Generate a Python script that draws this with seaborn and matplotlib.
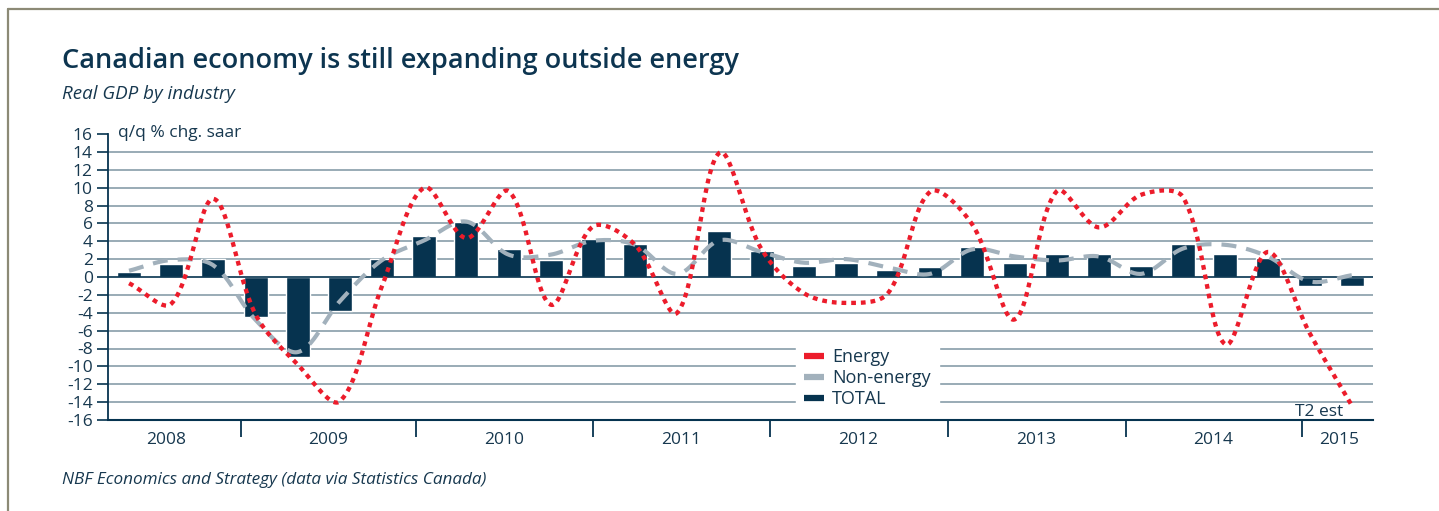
import numpy as np
import seaborn as sns
import matplotlib.pyplot as plt
from matplotlib.lines import Line2D

# quarterly data, 2008Q1 .. 2015Q2 (q/q % chg. saar)
years = [2008, 2009, 2010, 2011, 2012, 2013, 2014, 2015]
quarters = [f"{y}Q{q}" for y in years for q in range(1, 5)][:30]

total = [0.6, 1.5, 2.05, -4.5, -9.0, -3.8, 2.05, 4.6, 6.2, 3.15,
         1.9, 4.3, 3.7, 0.1, 5.2, 2.9, 1.25, 1.6, 0.8, 1.15,
         3.4, 1.6, 2.6, 2.6, 1.25, 3.7, 2.6, 2.15, -1.05, -1.05]
energy = [-0.7, -3.0, 8.75, -4.2, -9.8, -13.9, -1.0, 10.0, 4.35, 9.6,
          -3.1, 5.65, 3.6, -4.0, 13.9, 3.1, -1.8, -2.9, -1.8, 9.55,
          5.85, -4.75, 9.6, 5.55, 9.2, 8.9, -7.55, 2.8, -6.3, -14.4]
non_energy = [0.7, 1.9, 1.3, -4.8, -8.4, -2.7, 1.9, 4.1, 6.2, 2.5,
              2.5, 4.05, 3.6, 0.35, 4.1, 2.8, 1.6, 2.0, 1.07, 0.35,
              3.1, 2.3, 1.85, 2.3, 0.35, 3.2, 3.6, 2.3, -0.5, 0.2]

# year axis (the original's year dividers are not on quarter boundaries)
year_dividers = [2.66, 6.81, 11.01, 15.19, 19.41, 23.64, 27.81]
year_centers = [0.88, 4.72, 8.9, 13.1, 17.3, 21.5, 25.7, 28.7]

NAVY = "#06334f"
RED = "#ec1c2b"
GREY = "#a2b1bc"
GRID = "#7d94a2"
TXT = "#17384f"

# pixel size of one x slot / one y unit, used to shape the smoothing like excel does
SX, SY = 42.17, 8.94


def smooth(values, n=30):
    # excel-like smoothed line: bezier through every point, arms scaled by segment length
    pts = np.column_stack([np.arange(len(values)) * SX, np.asarray(values, float) * SY])
    pad = np.vstack([pts[0], pts, pts[-1]])
    t = np.linspace(0, 1, n, endpoint=False)[:, None]

    def arms(i):
        prev, cur, nxt = pad[i], pad[i + 1], pad[i + 2]
        d = nxt - prev
        a = np.hypot(*(cur - prev))
        b = np.hypot(*(nxt - cur))
        s = a + b if a + b > 0 else 1.0
        return d * a / s / 3, d * b / s / 3   # incoming, outgoing

    segs = []
    for i in range(len(pts) - 1):
        p1, p2 = pts[i], pts[i + 1]
        c1 = p1 + arms(i)[1]
        c2 = p2 - arms(i + 1)[0]
        segs.append((1 - t)**3 * p1 + 3 * (1 - t)**2 * t * c1 + 3 * (1 - t) * t**2 * c2 + t**3 * p2)
    segs.append(pts[-1:])
    out = np.vstack(segs)
    return out[:, 0] / SX, out[:, 1] / SY


sns.set_style("white")
plt.rcParams['font.family'] = ['Open Sans', 'DejaVu Sans']

W, H = 1439, 511
fig = plt.figure(figsize=(W / 100, H / 100), dpi=100)
ax = fig.add_axes([108 / W, 1 - 420 / H, (1373 - 108) / W, (420 - 134) / H])

sns.barplot(x=quarters, y=total, color=NAVY, saturation=1, width=0.57, ax=ax, zorder=3)

nx, ny = smooth(non_energy)
sns.lineplot(x=nx, y=ny, sort=False, estimator=None, color=GREY,
             linewidth=3.0, linestyle=(0, (3.6, 2.4)), ax=ax, zorder=4)
ex, ey = smooth(energy)
sns.lineplot(x=ex, y=ey, sort=False, estimator=None, color=RED,
             linewidth=3.1, linestyle=(0, (1.1, 1.15)), ax=ax, zorder=5)

ax.set_xlim(-0.5, len(quarters) - 0.5)
ax.set_ylim(-16, 16)
ax.set_yticks(np.arange(-16, 17, 2))
ax.set_yticklabels([str(v) for v in range(-16, 17, 2)])

# gridlines
for v in range(-14, 15, 2):
    ax.axhline(v, color=NAVY if v == 0 else GRID, lw=1.2 if v == 0 else 1.1, zorder=1 if v else 3.5)

for s in ["top", "right"]:
    ax.spines[s].set_visible(False)
ax.spines["left"].set_color(NAVY)
ax.spines["bottom"].set_color(NAVY)
ax.spines["left"].set_linewidth(1.3)
ax.spines["bottom"].set_linewidth(1.5)
ax.spines["bottom"].set_zorder(12)
ax.tick_params(axis="y", direction="out", length=8, width=1.2, color=NAVY,
               labelsize=12.5, labelcolor=TXT, pad=3, left=True)
ax.set_xticks(year_dividers)
ax.set_xticklabels([""] * len(year_dividers))
ax.tick_params(axis="x", direction="out", length=12, width=1.3, color=NAVY, bottom=True)
for c, y in zip(year_centers, years):
    ax.text(c, -0.042, str(y), transform=ax.get_xaxis_transform(), ha="center", va="top",
            fontsize=12.5, color=TXT)
ax.set_xlabel("")
ax.set_ylabel("")

fig.text(118 / W, 1 - 133 / H, "q/q % chg. saar", fontsize=12.5, color=TXT, va="center")
ax.text(28.8, -15.1, "T2 est", ha="right", va="center", fontsize=12.5, color=TXT, zorder=6)

handles = [Line2D([], [], color=RED, lw=4.5, solid_capstyle="butt"),
           Line2D([], [], color=GREY, lw=4.5, solid_capstyle="butt"),
           Line2D([], [], color=NAVY, lw=4.5, solid_capstyle="butt")]
leg = ax.legend(handles, ["Energy", "Non-energy", "TOTAL"], loc="upper left",
                bbox_to_anchor=((796 - 108) / 1265, (420 - 340) / 286), borderaxespad=0,
                frameon=True, fancybox=False, framealpha=1, edgecolor="white",
                fontsize=13, handlelength=1.1, handletextpad=0.45, labelspacing=0.17,
                borderpad=0.45, labelcolor=TXT)
leg.set_zorder(10)

fig.text(62 / W, 1 - 61 / H, "Canadian economy is still expanding outside energy",
         fontsize=19.5, fontweight="semibold", color="#0d3550", va="center")
fig.text(62 / W, 1 - 94 / H, "Real GDP by industry", fontsize=13.5, style="italic",
         color=TXT, va="center")
fig.text(62 / W, 1 - 480 / H, "NBF Economics and Strategy (data via Statistics Canada)",
         fontsize=12.3, style="italic", color=TXT, va="center")

# page frame (top and left only)
fig.add_artist(Line2D([8 / W, 1], [1 - 9.5 / H, 1 - 9.5 / H], color="#8c8a76", lw=1.6,
                      transform=fig.transFigure))
fig.add_artist(Line2D([8 / W, 8 / W], [0, 1 - 9.5 / H], color="#8c8a76", lw=1.6,
                      transform=fig.transFigure))

fig.savefig("out.png", dpi=100)
